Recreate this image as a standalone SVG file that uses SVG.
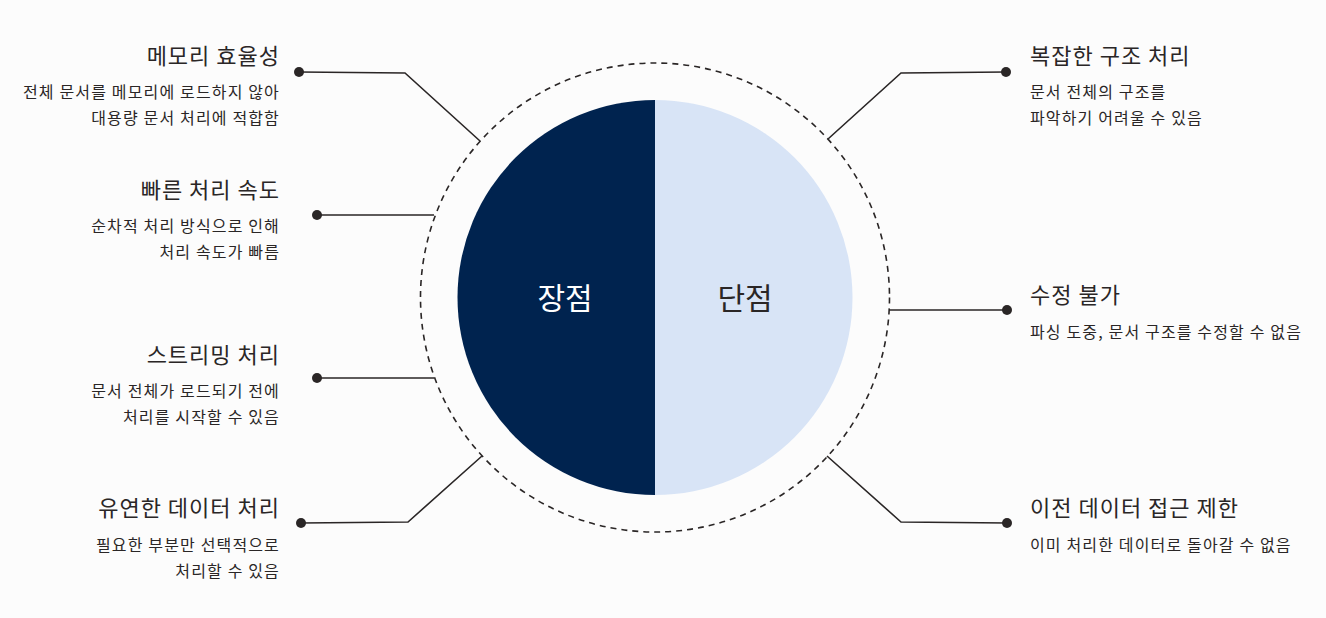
<svg xmlns="http://www.w3.org/2000/svg" width="1326" height="618" viewBox="0 0 1326 618">
<style>
text{font-family:"Noto Sans CJK KR","Noto Sans",sans-serif;fill:#2a2626}
.t{font-size:22px;letter-spacing:1px}
.d{font-size:16px;letter-spacing:1.15px}
.l{text-anchor:end}
.c{stroke:#2a2626;stroke-width:1.6;fill:none}
.dot{fill:#2a2626}
</style>
<rect width="1326" height="618" fill="#fcfcfc"/>
<g id="ring"><circle cx="655" cy="297.5" r="234.5" fill="none" stroke="#2a2626" stroke-width="1.6" stroke-dasharray="6,5"/></g>
<g id="pros"><path d="M655,100 A197.5,197.5 0 0 0 655,495 Z" fill="#00234f"/><text x="565" y="309" font-size="30" text-anchor="middle" style="fill:#fff">장점</text></g>
<g id="cons"><path d="M655,100 A197.5,197.5 0 0 1 655,495 Z" fill="#d8e4f6"/><text x="745" y="309" font-size="30" text-anchor="middle">단점</text></g>
<g id="connectors">
<polyline class="c" points="299,72 405,73 480,141"/><circle class="dot" cx="299" cy="72" r="5"/>
<polyline class="c" points="317,215 434,215"/><circle class="dot" cx="317" cy="215" r="5"/>
<polyline class="c" points="317,378 434,378"/><circle class="dot" cx="317" cy="378" r="5"/>
<polyline class="c" points="301,523 408,522 482,456"/><circle class="dot" cx="301" cy="523" r="5"/>
<polyline class="c" points="1006,72 901,73 828,139"/><circle class="dot" cx="1006" cy="72" r="5"/>
<polyline class="c" points="1007,310 889,310"/><circle class="dot" cx="1007" cy="310" r="5"/>
<polyline class="c" points="1007,523 901,522 827,456"/><circle class="dot" cx="1007" cy="523" r="5"/>
</g>
<g id="memory"><text class="t l" x="280" y="64">메모리 효율성</text><text class="d l" x="280" y="98">전체 문서를 메모리에 로드하지 않아</text><text class="d l" x="280" y="124">대용량 문서 처리에 적합함</text></g>
<g id="speed"><text class="t l" x="280" y="198">빠른 처리 속도</text><text class="d l" x="280" y="232">순차적 처리 방식으로 인해</text><text class="d l" x="280" y="258">처리 속도가 빠름</text></g>
<g id="streaming"><text class="t l" x="280" y="363">스트리밍 처리</text><text class="d l" x="280" y="397">문서 전체가 로드되기 전에</text><text class="d l" x="280" y="423">처리를 시작할 수 있음</text></g>
<g id="flexible"><text class="t l" x="280" y="516">유연한 데이터 처리</text><text class="d l" x="280" y="551">필요한 부분만 선택적으로</text><text class="d l" x="280" y="577">처리할 수 있음</text></g>
<g id="complex"><text class="t" x="1030" y="64">복잡한 구조 처리</text><text class="d" x="1030" y="98">문서 전체의 구조를</text><text class="d" x="1030" y="124">파악하기 어려울 수 있음</text></g>
<g id="noedit"><text class="t" x="1030" y="303">수정 불가</text><text class="d" x="1030" y="338">파싱 도중, 문서 구조를 수정할 수 없음</text></g>
<g id="noback"><text class="t" x="1030" y="516">이전 데이터 접근 제한</text><text class="d" x="1030" y="551">이미 처리한 데이터로 돌아갈 수 없음</text></g>
</svg>
